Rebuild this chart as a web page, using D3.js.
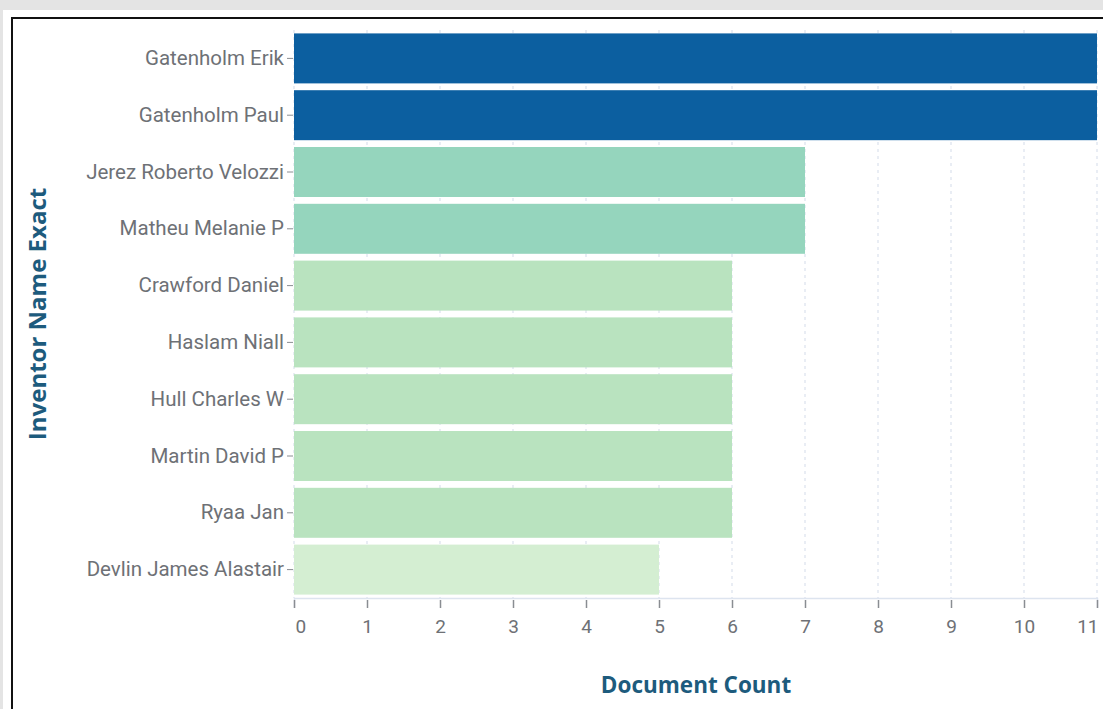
<!DOCTYPE html>
<html>
<head>
<meta charset="utf-8">
<script src="https://cdn.jsdelivr.net/npm/d3@7"></script>
<style>
  html, body { margin: 0; padding: 0; background: #e4e4e4; }
  #page {
    position: absolute; left: 3px; top: 10px; width: 1100px; height: 699px;
    background: #fff; overflow: hidden;
  }
  #frame {
    position: absolute; left: 8px; top: 7px; width: 1100px; height: 720px;
    border-left: 2px solid #111; border-top: 2px solid #111;
  }
  svg { position: absolute; left: 0; top: 0; }
  .tick text { fill: #6e7176; font-family: Roboto, "Open Sans", sans-serif; }
</style>
</head>
<body>
<div id="page"><div id="frame"></div></div>
<div id="chart"></div>
<script>
let names = [
  "Gatenholm Erik", "Gatenholm Paul", "Jerez Roberto Velozzi", "Matheu Melanie P",
  "Crawford Daniel", "Haslam Niall", "Hull Charles W", "Martin David P",
  "Ryaa Jan", "Devlin James Alastair"
];
let counts = [11, 11, 7, 7, 6, 6, 6, 6, 6, 5];
let xTicks = [0, 1, 2, 3, 4, 5, 6, 7, 8, 9, 10, 11];

let svgWidth = 1103;
let svgHeight = 709;

let x = d3.scaleLinear()
  .domain([0, 11])
  .range([294, 1097]);

let y = d3.scaleBand()
  .domain(names)
  .range([30, 598])
  .paddingInner(0.12)
  .paddingOuter(0.06);

// colour by count
let color = d3.scaleOrdinal()
  .domain([11, 7, 6, 5])
  .range(["#0c5fa0", "#95d5bd", "#b9e3bf", "#d4eed2"]);

let svg = d3.select("#chart")
  .append("svg")
  .attr("width", svgWidth)
  .attr("height", svgHeight);

// grid lines
svg.append("g")
  .selectAll("line")
  .data(xTicks)
  .enter()
  .append("line")
    .attr("x1", d => x(d))
    .attr("x2", d => x(d))
    .attr("y1", 30)
    .attr("y2", 598)
    .attr("stroke", "#d3dbe9")
    .attr("stroke-dasharray", "3,4");

// bars
svg.append("g")
  .selectAll("rect")
  .data(names)
  .enter()
  .append("rect")
    .attr("x", x(0))
    .attr("y", d => y(d))
    .attr("width", (d, i) => x(counts[i]) - x(0))
    .attr("height", y.bandwidth())
    .attr("fill", (d, i) => color(counts[i]));

// x axis
let xAxis = svg.append("g")
  .attr("transform", "translate(0, 598)")
  .call(d3.axisBottom(x).tickValues(xTicks).tickFormat(d3.format("d")).tickSize(10).tickPadding(12));
xAxis.select(".domain").attr("stroke", "#dde4ef").attr("stroke-width", 1.5);
xAxis.selectAll(".tick line").attr("stroke", "#8a8d92").attr("stroke-width", 1.5)
  .attr("y1", 2);
xAxis.selectAll(".tick text").style("font-size", "19px");
// flush first and last labels
xAxis.selectAll(".tick text")
  .filter(d => d === 0)
  .attr("text-anchor", "start")
  .attr("dx", 1);
xAxis.selectAll(".tick text")
  .filter(d => d === 11)
  .attr("text-anchor", "end")
  .attr("dx", 1);

// y axis
let yAxis = svg.append("g")
  .attr("transform", "translate(293, 0)")
  .call(d3.axisLeft(y).tickSize(6).tickPadding(3));
yAxis.select(".domain").remove();
yAxis.selectAll(".tick line").attr("stroke", "#8a8d92");
yAxis.selectAll(".tick text").style("font-size", "20.5px");

// axis titles
svg.append("text")
  .attr("x", 696)
  .attr("y", 693)
  .attr("text-anchor", "middle")
  .attr("fill", "#1d5b7d")
  .style("font-family", "\"Open Sans\", sans-serif")
  .style("font-weight", "bold")
  .style("font-size", "22.5px")
  .text("Document Count");

svg.append("text")
  .attr("transform", "translate(46, 314) rotate(-90)")
  .attr("text-anchor", "middle")
  .attr("fill", "#1d5b7d")
  .style("font-family", "\"Open Sans\", sans-serif")
  .style("font-weight", "bold")
  .style("font-size", "24px")
  .text("Inventor Name Exact");
</script>
</body>
</html>
